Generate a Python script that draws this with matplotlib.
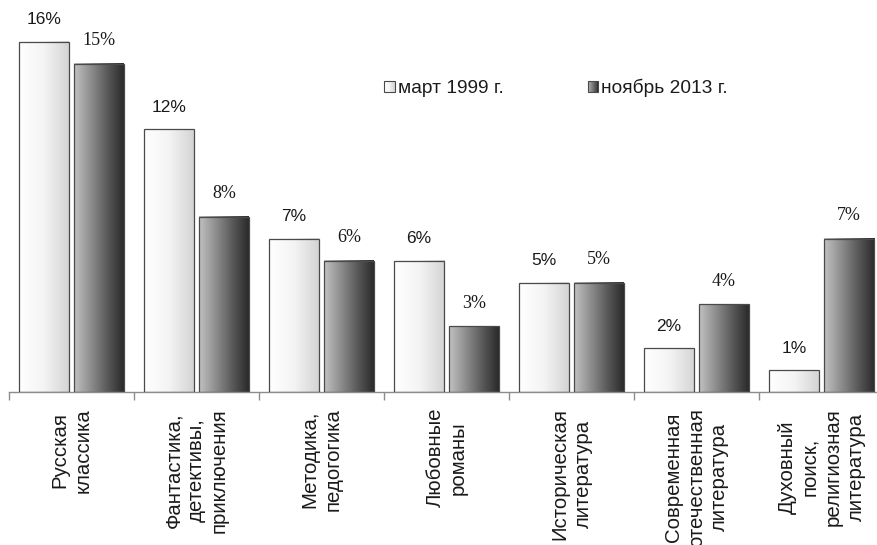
import numpy as np
import matplotlib
matplotlib.use("Agg")
import matplotlib.pyplot as plt
from matplotlib.patches import Rectangle
from matplotlib.legend_handler import HandlerBase
from matplotlib.colors import LinearSegmentedColormap

categories = ["Русская\nклассика",
              "Фантастика,\nдетективы,\nприключения",
              "Методика,\nпедогогика",
              "Любовные\nроманы",
              "Историческая\nлитература",
              "Современная\nотечественная\nлитература",
              "Духовный\nпоиск,\nрелигиозная\nлитература"]
series_names = ["март 1999 г.", "ноябрь 2013 г."]
march_1999 = [16, 12, 7, 6, 5, 2, 1]
november_2013 = [15, 8, 6, 3, 5, 4, 7]

SANS = "Liberation Sans"
SERIF = "Liberation Serif"
TXT = "#1a1a1a"

cmap1 = LinearSegmentedColormap.from_list("g1", ["#ffffff", "#f4f4f4", "#d4d4d4"])
cmap2 = LinearSegmentedColormap.from_list("g2", ["#c2c2c2", "#8e8e8e", "#5a5a5a", "#2a2a2a"])

fig = plt.figure(figsize=(8.78, 5.45), dpi=100)
ax = fig.add_axes([9/878, (545-392)/545, 875/878, 392/545])
ymax = 392/21.9

grad = np.linspace(0, 1, 256).reshape(1, -1)
width = 0.4
offset = 0.22

def grad_bar(x, h, cmap):
    x0, x1 = x - width/2, x + width/2
    ax.imshow(grad, cmap=cmap, extent=(x0, x1, 0, h), aspect='auto',
              interpolation='bilinear', zorder=2)
    ax.add_patch(Rectangle((x0, 0), width, h, fill=False, edgecolor="#4a4a4a",
                           linewidth=0.9, zorder=3))

for i, (a, b) in enumerate(zip(march_1999, november_2013)):
    grad_bar(i - offset, a, cmap1)
    grad_bar(i + offset, b, cmap2)
    ax.annotate(f"{a}%", xy=(i - offset, a), xytext=(0, 10.5), textcoords="offset points",
                ha="center", va="bottom", fontsize=12.5, family=SANS, color=TXT)
    ax.annotate(f"{b}%", xy=(i + offset, b), xytext=(0, 10.5), textcoords="offset points",
                ha="center", va="bottom", fontsize=13, family=SERIF, color=TXT)
    ax.annotate(categories[i], xy=(i, 0), xycoords=("data", "axes fraction"),
                xytext=(0, -11.5), textcoords="offset points", rotation=90,
                ha="center", va="top", multialignment="center",
                fontsize=14.7, family=SANS, linespacing=1.27, color=TXT,
                annotation_clip=False)

ax.set_xlim(-0.5, 6.5)
ax.set_ylim(0, ymax)
ax.set_xticks(np.arange(-0.5, 7.0, 1.0))
ax.set_xticklabels([])
ax.set_yticks([])
ax.tick_params(axis="x", length=6, color="#8c8c8c", width=1, direction="out")
for s in ["top", "left", "right"]:
    ax.spines[s].set_visible(False)
ax.spines["bottom"].set_color("#8c8c8c")
ax.spines["bottom"].set_linewidth(1)
ax.patch.set_alpha(0)


class GradHandler(HandlerBase):
    def __init__(self, cmap):
        super().__init__()
        self.cmap = cmap

    def create_artists(self, legend, orig_handle, xdescent, ydescent, width,
                       height, fontsize, trans):
        n = 12
        arts = []
        for k in range(n):
            r = Rectangle((-xdescent + width*k/n, -ydescent), width/n + 0.3, height,
                          facecolor=self.cmap((k + 0.5)/n), edgecolor="none",
                          transform=trans)
            arts.append(r)
        arts.append(Rectangle((-xdescent, -ydescent), width, height, fill=False,
                              edgecolor="#4a4a4a", linewidth=0.8, transform=trans))
        return arts

h1 = Rectangle((0, 0), 1, 1)
h2 = Rectangle((0, 0), 1, 1)
leg = fig.legend([h1, h2], series_names, loc="center",
                 bbox_to_anchor=(556/878, 1 - 88/545), ncol=2, frameon=False,
                 prop={"family": SANS, "size": 13.8},
                 handler_map={h1: GradHandler(cmap1), h2: GradHandler(cmap2)},
                 handlelength=0.55, handleheight=0.55, handletextpad=0.15,
                 columnspacing=4.4)
for t in leg.get_texts():
    t.set_color(TXT)

fig.savefig("out.png", dpi=100)
